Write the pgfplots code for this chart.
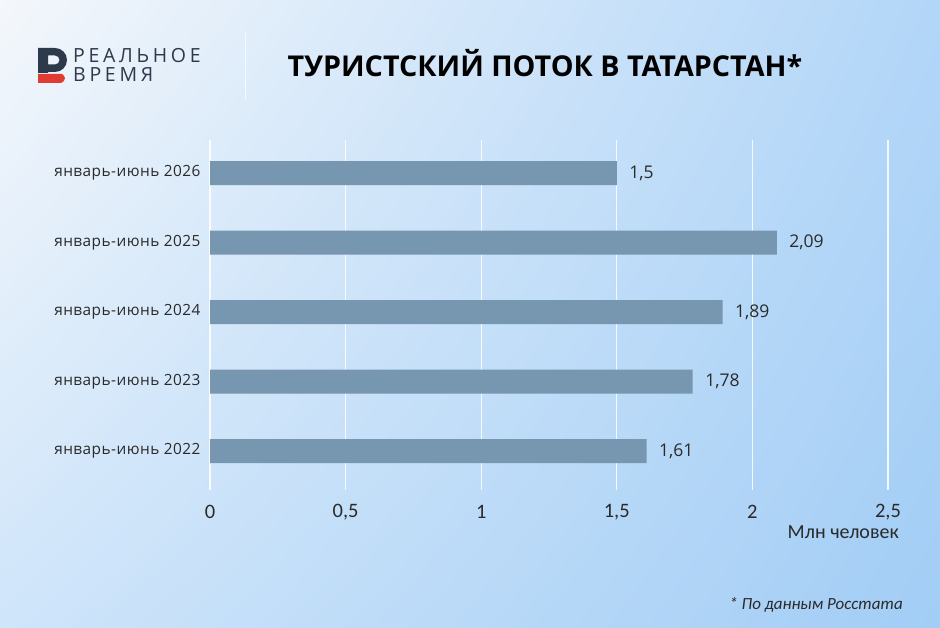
\documentclass[border=0pt]{standalone}
\usepackage{pgfplots}
\pgfplotsset{compat=1.18}
\usetikzlibrary{shadings}
\usepackage{fontspec}
\setmainfont{Open Sans}
\newfontfamily\carl{Carlito}
\definecolor{barc}{HTML}{7796B0}
\definecolor{bgTL}{HTML}{F4F7FB}
\definecolor{bgTR}{HTML}{B2D6F8}
\definecolor{bgBL}{HTML}{CFE5FA}
\definecolor{bgBR}{HTML}{A2CDF5}
\definecolor{txt}{HTML}{2A2A2A}
\definecolor{logod}{HTML}{2D3A4B}
\definecolor{logor}{HTML}{E03C31}
\begin{document}
\begin{tikzpicture}[x=1pt,y=1pt]
\useasboundingbox (0,0) rectangle (940,627);
\shade[upper left=bgTL, upper right=bgTR, lower left=bgBL, lower right=bgBR] (0,0) rectangle (940,627);
% logo mark
\fill[logod, even odd rule] (38,579) -- (55,579) arc[start angle=90, end angle=-90, radius=12] -- (48,555) -- (48,554) -- (38,554) -- cycle
  (48,571.5) -- (55,571.5) arc[start angle=90, end angle=-90, radius=4.5] -- (48,562.5) -- cycle;
\fill[logor] (38,553) -- (62,553) .. controls (66,551) and (66,546) .. (61,544) -- (38,544) -- cycle;
\node[anchor=base west, inner sep=0pt, text=logod, font=\addfontfeature{LetterSpace=19}\fontsize{19.5}{20}\selectfont] at (73,564.7) {РЕАЛЬНОЕ};
\node[anchor=base west, inner sep=0pt, text=logod, font=\addfontfeature{LetterSpace=19}\fontsize{19.5}{20}\selectfont] at (73,545) {ВРЕМЯ};
\draw[white, opacity=0.7, line width=1pt] (245,594) -- (245,527);
% title
\node[anchor=base, inner sep=0pt, font=\bfseries\fontsize{28.7}{30}\selectfont] at (545,550) {ТУРИСТСКИЙ ПОТОК В ТАТАРСТАН*};
\begin{axis}[
  at={(210pt,137pt)}, anchor=south west, scale only axis,
  width=678pt, height=350pt,
  xmin=0, xmax=2.5, ymin=-0.561, ymax=4.475,
  axis line style={draw=none}, tick style={draw=none},
  xtick={0,0.5,1,1.5,2,2.5}, ytick={0,1,2,3,4},
  yticklabels={январь-июнь 2022, январь-июнь 2023, январь-июнь 2024, январь-июнь 2025, январь-июнь 2026},
  xmajorgrids, grid style={white, line width=1.2pt, opacity=0.85},
  /pgf/number format/use comma, /pgf/number format/assume math mode=true,
  xticklabel style={font=\carl\fontsize{20.5}{21}\selectfont, text=txt, anchor=center, yshift=-22pt},
  yticklabel style={font=\addfontfeature{LetterSpace=3}\fontsize{15.4}{16}\selectfont, text=txt, anchor=east, inner sep=0pt, xshift=-5pt},
  xbar, bar width=24pt,
  nodes near coords,
  nodes near coords style={font=\fontsize{17.5}{18}\selectfont, text=txt, anchor=west, xshift=9pt},
  clip=false,
]
\addplot[fill=barc, draw=none] coordinates {(1.61,0) (1.78,1) (1.89,2) (2.09,3) (1.5,4)};
\end{axis}
\node[anchor=east, inner sep=0pt, text=txt, font=\carl\fontsize{20}{20}\selectfont] at (899,95) {Млн человек};
\node[anchor=base east, inner sep=0pt, text=txt, font=\carl\itshape\fontsize{17}{17}\selectfont] at (903,18) {* По данным Росстата};
\end{tikzpicture}
\end{document}
